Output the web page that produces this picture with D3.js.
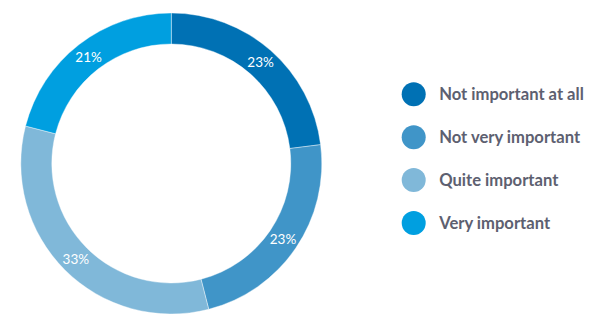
<!DOCTYPE html>
<html><head><meta charset="utf-8">
<script src="https://cdn.jsdelivr.net/npm/d3@7"></script>
<style>html,body{margin:0;padding:0;background:#fff;}svg{display:block;}</style>
</head><body>
<svg id="chart" width="613" height="329"></svg>
<script>
const categories = ["Not important at all", "Not very important", "Quite important", "Very important"];
const values = [23, 23, 33, 21];
const colors = ["#0071b4", "#4095c8", "#80b8d9", "#009fe0"];

const svg = d3.select("#chart");
const cx = 171.3, cy = 163.5, outerR = 150.5, innerR = 119.5;
const g = svg.append("g").attr("transform", `translate(${cx},${cy})`);
const pie = d3.pie().sort(null).value(d => d)(values);
const arc = d3.arc().innerRadius(innerR).outerRadius(outerR);
g.selectAll("path").data(pie).join("path")
  .attr("d", arc).attr("fill", (d, i) => colors[i])
  .attr("stroke", "#fff").attr("stroke-width", 0.4);
g.selectAll("text").data(pie).join("text")
  .attr("transform", d => `translate(${arc.centroid(d)})`)
  .attr("text-anchor", "middle").attr("dy", "0.36em")
  .attr("font-family", "Lato, sans-serif").attr("font-size", 13.5)
  .attr("fill", "#fff")
  .text(d => d.data + "%");

const y = d3.scalePoint().domain(categories).range([94.3, 223]);
const leg = svg.append("g");
const items = leg.selectAll("g").data(categories).join("g")
  .attr("transform", d => `translate(413.7,${y(d)})`);
items.append("circle").attr("r", 12).attr("fill", (d, i) => colors[i]);
items.append("text").attr("x", 25.5).attr("dy", "0.36em")
  .attr("font-family", "Lato, sans-serif").attr("font-weight", "bold")
  .attr("font-size", 16.6).attr("fill", "#5d6070")
  .text(d => d);
</script>
</body></html>
